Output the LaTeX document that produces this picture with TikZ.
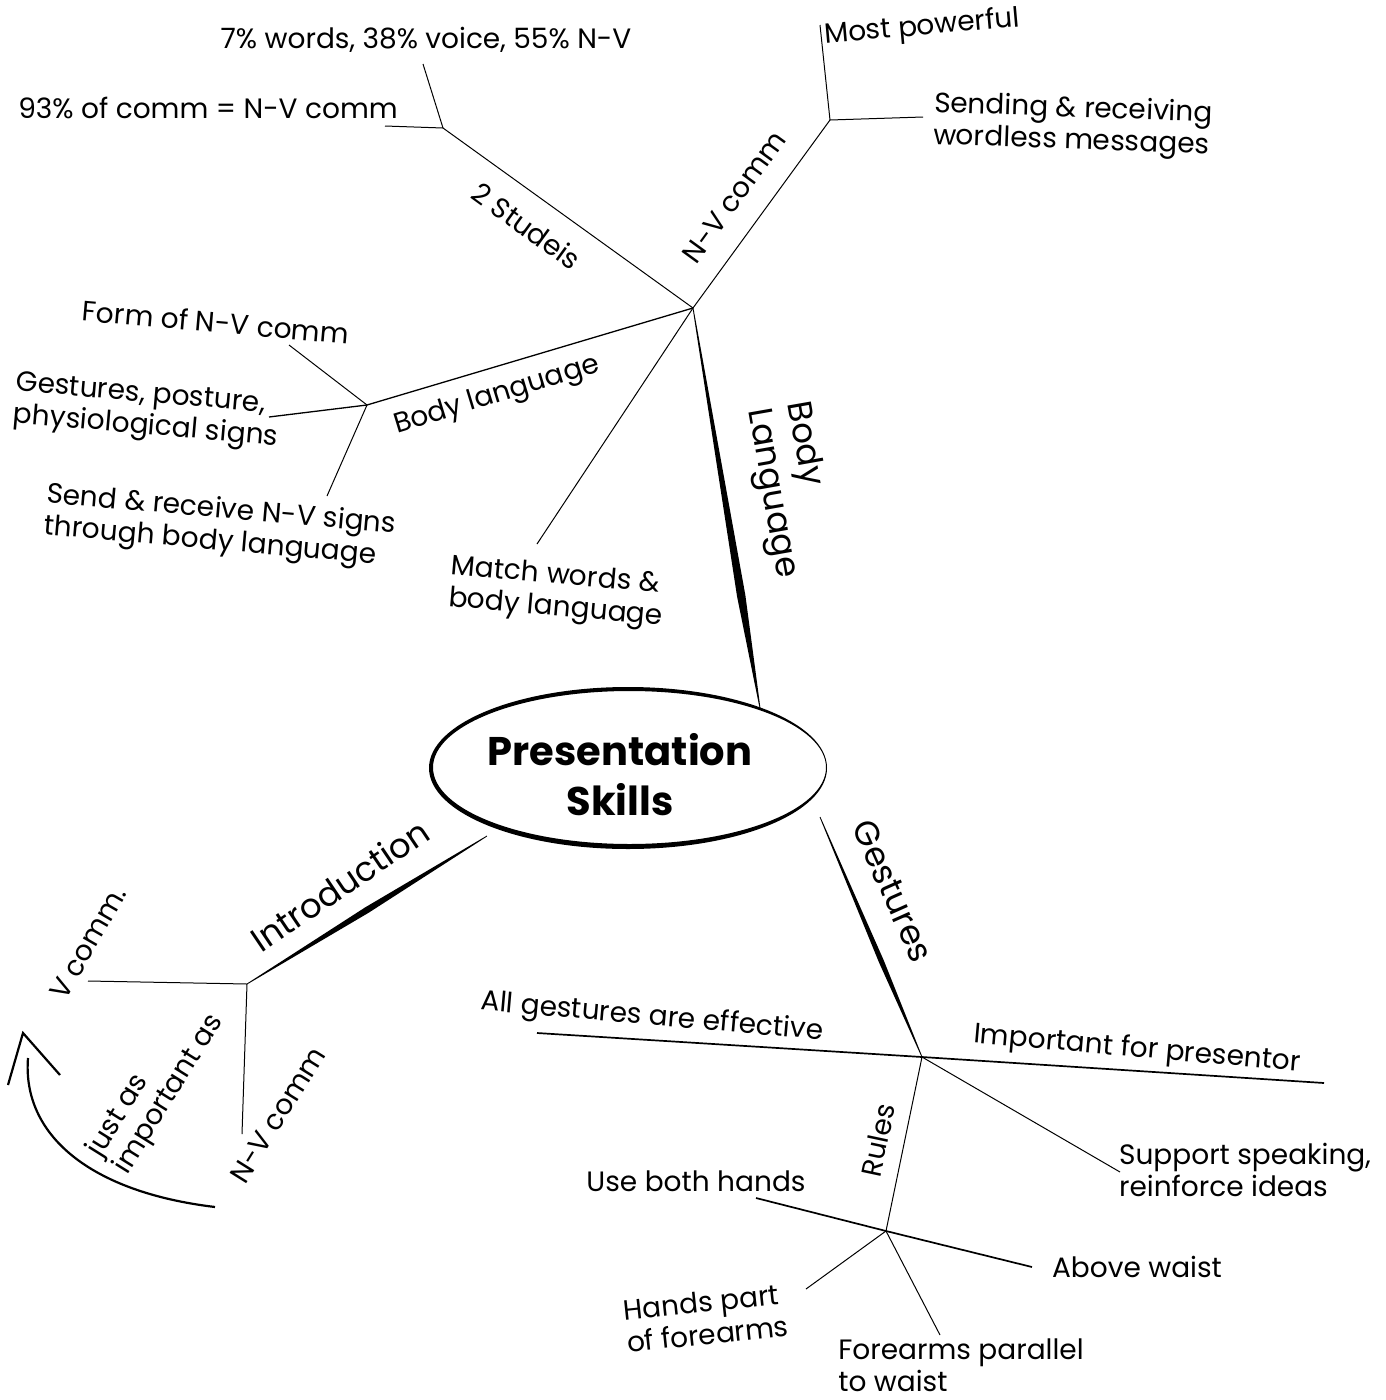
\documentclass[tikz,border=0pt]{standalone}
\usepackage{fontspec}
\setmainfont{Poppins}
\usetikzlibrary{calc}
\newcommand\taperline[4]{%
  \path (#1) -- (#2) coordinate[pos=#3] (tm);
  \fill ($(#1)!0.4pt!90:(#2)$) -- ($(tm)!#4!90:(#2)$) -- ($(#2)!0.4pt!-90:(#1)$) -- ($(#2)!0.4pt!90:(#1)$) -- ($(tm)!#4!-90:(#2)$) -- ($(#1)!0.4pt!-90:(#2)$) -- cycle;}
\begin{document}
\begin{tikzpicture}[x=1pt,y=-1pt,
  lbl/.style={font=\fontsize{28}{32}\selectfont, inner sep=0pt, align=left},
  biglbl/.style={font=\fontsize{34}{40}\selectfont, inner sep=0pt, align=center},
  thinl/.style={line width=1pt},
  midl/.style={line width=1.7pt}]
\useasboundingbox (0,0) rectangle (1386,1400);
\fill[white] (0,0) rectangle (1386,1400);

% central ellipse
\fill[even odd rule] (628,768) ellipse [x radius=199pt, y radius=81pt]
                     (629.5,767.5) ellipse [x radius=196.5pt, y radius=76.5pt];
\node[font=\fontsize{40}{50}\selectfont\bfseries, align=center, inner sep=0pt] (center) at (620,775) {Presentation\\Skills};

% coordinates
\coordinate (H1) at (693,308);
\coordinate (J1) at (443,128);
\coordinate (J1a) at (423,64);
\coordinate (J1b) at (385,126);
\coordinate (J2) at (830,120);
\coordinate (J2a) at (820,25);
\coordinate (J2b) at (923,117);
\coordinate (J3) at (367,405);
\coordinate (J3a) at (289,345);
\coordinate (J3b) at (269,417);
\coordinate (J3c) at (327,496);
\coordinate (Hm) at (537,544);
\coordinate (E1) at (760,708);
\coordinate (E2) at (487,836);
\coordinate (H2) at (247,984);
\coordinate (H2a) at (88,981);
\coordinate (H2b) at (242,1134);
\coordinate (E3) at (820,817);
\coordinate (H3) at (922,1057);
\coordinate (H3a) at (537,1033);
\coordinate (H3b) at (1324,1083);
\coordinate (H3c) at (1120,1172);
\coordinate (H4) at (886,1231);
\coordinate (H4a) at (756,1198);
\coordinate (H4b) at (1032,1267);
\coordinate (H4c) at (806,1289);
\coordinate (H4d) at (940,1335);

% thick tapered main branches
\taperline{H1}{E1}{0.72}{4.2pt}
\taperline{E2}{H2}{0.5}{3.2pt}
\taperline{E3}{H3}{0.6}{2.6pt}

% thin branches
\draw[thinl] (H1) -- (J1);
\draw[thinl] (J1) -- (J1a);
\draw[thinl] (J1) -- (J1b);
\draw[thinl] (H1) -- (J2);
\draw[thinl] (J2) -- (J2a);
\draw[thinl] (J2) -- (J2b);
\draw[line width=1.3pt] (H1) -- (J3);
\draw[thinl] (J3) -- (J3a);
\draw[line width=1.3pt] (J3) -- (J3b);
\draw[thinl] (J3) -- (J3c);
\draw[thinl] (H1) -- (Hm);
\draw[thinl] (H2) -- (H2a);
\draw[thinl] (H2) -- (H2b);
\draw[midl] (H3) -- (H3a);
\draw[midl] (H3) -- (H3b);
\draw[thinl] (H3) -- (H3c);
\draw[thinl] (H3) -- (H4);
\draw[midl] (H4) -- (H4a);
\draw[midl] (H4) -- (H4b);
\draw[thinl] (H4) -- (H4c);
\draw[thinl] (H4) -- (H4d);

% curved arrow
\coordinate (ac1) at (215,1207);
\coordinate (ac2) at (28,1058);
\coordinate (ahA) at (23,1033);
\coordinate (ah1) at (8,1085);
\coordinate (ah2) at (60,1075);
\draw[line width=2.2pt] (ac1) .. controls (90,1192) and (22,1135) .. (ac2);
\draw[line width=2.2pt] (ah1) -- (ahA) -- (ah2);

% labels
\node[lbl] (t7) at (426,40) {7\% words, 38\% voice, 55\% N-V};
\node[lbl] (t93) at (208,108) {93\% of comm = N-V comm};
\node[lbl, rotate=-36] (tstud) at (527,226) {2 Studeis};
\node[lbl, rotate=5] (tmost) at (922,28) {Most powerful};
\node[lbl, rotate=-2] (tsend) at (1073,126) {Sending \& receiving\\wordless messages};
\node[lbl, rotate=54] (tnv) at (734,197) {N-V comm};
\node[lbl, rotate=-5] (tform) at (216,322) {Form of N-V comm};
\node[lbl, rotate=-5] (tgest) at (147,412) {Gestures, posture,\\physiological signs};
\node[lbl, rotate=-5] (tsendr) at (220,527) {Send \& receive N-V signs\\through body language};
\node[lbl, rotate=17] (tbl) at (497,396) {Body language};
\node[lbl, rotate=-5] (tmatch) at (557,593) {Match words \&\\body language};
\node[biglbl, align=left, rotate=-80] (tBL) at (791,490) {Body\\Language};

\node[biglbl, rotate=34] (tintro) at (340,885) {Introduction};
\node[lbl, rotate=60] (tvcomm) at (88,943) {V comm.};
\node[lbl, rotate=58] (tnvc) at (278,1115) {N-V comm};
\node[lbl, rotate=58] (tjust) at (156,1086) {just as\\important as};

\node[biglbl, rotate=-66] (tGest) at (893,891) {Gestures};
\node[lbl, rotate=-5] (tall) at (652,1018) {All gestures are effective};
\node[lbl, rotate=-5] (timp) at (1137,1050) {Important for presentor};
\node[lbl] (tsup) at (1245,1170) {Support speaking,\\reinforce ideas};
\node[lbl, rotate=78] (trules) at (878,1140) {Rules};
\node[lbl] (tuse) at (696,1181) {Use both hands};
\node[lbl] (tabove) at (1137,1267) {Above waist};
\node[lbl, rotate=6] (thands) at (706,1318) {Hands part\\of forearms};
\node[lbl] (tfore) at (961,1365) {Forearms parallel\\to waist};
\end{tikzpicture}
\end{document}
